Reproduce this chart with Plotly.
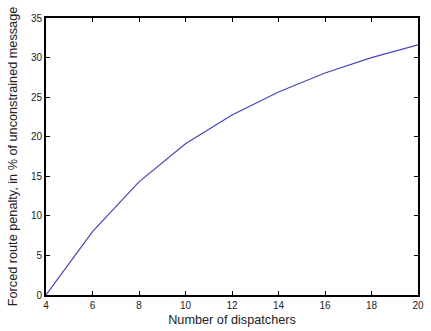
import plotly.graph_objects as go

dispatchers = [4, 6, 8, 10, 12, 14, 16, 18, 20]
penalty = [0, 8.0, 14.3, 19.1, 22.75, 25.65, 28.05, 30.0, 31.6]

x_ticks = [4, 6, 8, 10, 12, 14, 16, 18, 20]
y_ticks = [0, 5, 10, 15, 20, 25, 30, 35]

fig = go.Figure()
fig.add_trace(go.Scatter(x=dispatchers, y=penalty, mode="lines",
                         line=dict(color="#4646b8", width=1.2),
                         showlegend=False, hoverinfo="skip"))

axis_common = dict(showgrid=False, zeroline=False, showline=True, linecolor="black",
                   linewidth=1.8, mirror="ticks", ticks="inside", ticklen=4,
                   tickwidth=1, tickcolor="black", automargin=False,
                   tickfont=dict(family="Liberation Sans, Arial", size=10, color="#222"))

fig.update_xaxes(range=[4, 20], tickvals=x_ticks, ticktext=[str(v) for v in x_ticks],
                 title=dict(text="Number of dispatchers", standoff=5,
                            font=dict(family="Liberation Sans, Arial", size=12.7, color="#222")),
                 **axis_common)
fig.update_yaxes(range=[0, 35], tickvals=y_ticks, ticktext=[str(v) for v in y_ticks],
                 title=dict(text="Forced route penalty, in % of unconstrained message", standoff=11,
                            font=dict(family="Liberation Sans, Arial", size=12.7, color="#222")),
                 **axis_common)

fig.update_layout(width=431, height=331, margin=dict(l=46, r=13, t=18, b=36),
                  paper_bgcolor="white", plot_bgcolor="white")

fig.write_html("out.html")
